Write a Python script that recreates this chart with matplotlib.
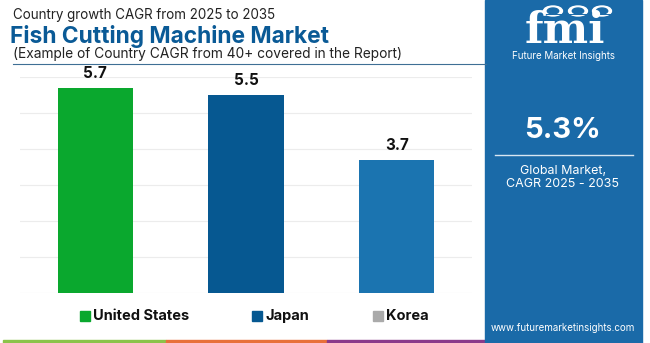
import matplotlib
matplotlib.use("Agg")
import matplotlib.pyplot as plt
from matplotlib.patches import Rectangle, Circle
from matplotlib.lines import Line2D

categories = ["United States", "Japan", "Korea"]
values = [5.7, 5.5, 3.7]
bar_colors = ["#0aa82e", "#065891", "#1b74b0"]
legend_colors = ["#0aa82e", "#065891", "#aaaaaa"]
yticks = [0, 1, 2, 3, 4, 5, 6]

W, H = 650, 343
FONT = "Inter"
fig = plt.figure(figsize=(W / 100, H / 100), dpi=100)
fig.patch.set_facecolor("white")

def fx(x):
    return x / W

def fy(y):
    return 1 - y / H

# Axes
ax = fig.add_axes([fx(20), fy(293.3), fx(472) - fx(20), fy(77.3) - fy(293.3)])
ax.set_xlim(-0.5, 2.5)
ax.set_ylim(0, 6)
ax.set_yticks(yticks)
ax.yaxis.grid(True, color="#ececec", lw=0.8)
ax.set_axisbelow(True)
for s in ax.spines.values():
    s.set_visible(False)
ax.tick_params(left=False, bottom=False, labelleft=False, labelbottom=False)
xs = list(range(len(categories)))
bars = ax.bar(xs, values, width=0.5, color=bar_colors, clip_on=False)
for x, v in zip(xs, values):
    ax.annotate(f"{v}", (x, v), xytext=(0, 5), textcoords="offset points",
                ha="center", va="bottom", fontsize=11, fontweight="bold",
                family=FONT, color="#111111", annotation_clip=False)

# Titles
fig.text(fx(13), fy(15), "Country growth CAGR from 2025 to 2035", fontsize=9.65,
         family=FONT, color="#222222", va="center", ha="left")
fig.text(fx(10), fy(36), "Fish Cutting Machine Market", fontsize=16.4,
         family=FONT, fontweight="bold", color="#0a5a96", va="center", ha="left")
fig.text(fx(13), fy(54), "(Example of Country CAGR from 40+ covered in the Report)",
         fontsize=9.9, family=FONT, color="#222222", va="center", ha="left")
fig.add_artist(Line2D([fx(13), fx(486)], [fy(63.5), fy(63.5)], color="#3f6f95", lw=0.8))

# Legend
leg_sq = [80, 252, 373]
for sx, lab, c in zip(leg_sq, categories, legend_colors):
    fig.add_artist(Rectangle((fx(sx), fy(320.5)), fx(9.5), 9.5 / H, color=c,
                             transform=fig.transFigure))
    fig.text(fx(sx + 13), fy(316), lab, fontsize=10.5, fontweight="bold",
             family=FONT, color="#111111", va="center", ha="left")

# Bottom strips
for x0, x1, c in [(3, 166, "#8bc34a"), (166, 327, "#e8703a"), (327, 490, "#8b3a8b")]:
    fig.add_artist(Rectangle((fx(x0), 0), fx(x1 - x0), 3.5 / H, color=c,
                             transform=fig.transFigure))

# Right panel
px0, px1 = 485, 642
panel = "#1a6aa8"
fig.add_artist(Rectangle((fx(px0), 0), fx(px1 - px0), 1.0, color=panel,
                         transform=fig.transFigure))
# logo
fig.text(fx(565), fy(31), "fmi", fontsize=31, fontweight="bold", family="DejaVu Serif",
         color="white", ha="center", va="center")
for yy in range(14, 47, 3):
    fig.add_artist(Line2D([fx(505), fx(625)], [fy(yy), fy(yy)], color=panel, lw=0.7))
for cx in [553, 578, 602]:
    fig.add_artist(Circle((fx(cx), fy(11)), 5.0 / H, color="white",
                          transform=fig.transFigure))
    fig.add_artist(Circle((fx(cx), fy(11)), 3.0 / H, color=panel,
                          transform=fig.transFigure))
fig.text(fx(563), fy(56), "Future Market Insights", fontsize=7, family=FONT,
         color="white", ha="center", va="center")

fig.text(fx(563), fy(130), "5.3%", fontsize=21, fontweight="bold", family=FONT,
         color="white", ha="center", va="center")
fig.add_artist(Line2D([fx(495), fx(633)], [fy(155), fy(155)], color="#d8e6f2", lw=1.0))
fig.text(fx(563), fy(171), "Global Market,", fontsize=9, family=FONT,
         color="white", ha="center", va="center")
fig.text(fx(563), fy(184), "CAGR 2025 - 2035", fontsize=9, family=FONT,
         color="white", ha="center", va="center")
fig.text(fx(563), fy(328), "www.futuremarketinsights.com", fontsize=7, family=FONT,
         color="white", ha="center", va="center")

fig.savefig("out.png", dpi=100, facecolor="white")
